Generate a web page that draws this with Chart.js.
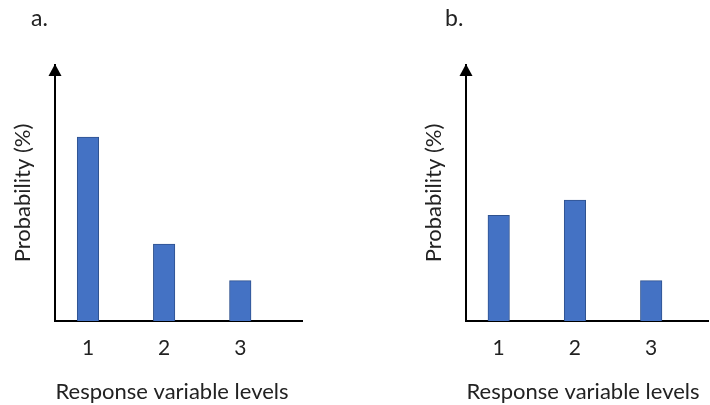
<!DOCTYPE html>
<html>
<head>
<meta charset="utf-8">
<script src="https://cdn.jsdelivr.net/npm/chart.js@4"></script>
<style>
  html, body { margin: 0; padding: 0; background: #fff; }
  #wrap { position: relative; width: 710px; height: 405px; overflow: hidden; }
  canvas { position: absolute; top: 0; }
  .panel-label { position: absolute; font-family: Lato, "Open Sans", sans-serif; font-size: 23px; color: #222; line-height: 1; }
</style>
</head>
<body>
<div id="wrap">
  <canvas id="chartA" width="355" height="405" style="left:0"></canvas>
  <canvas id="chartB" width="355" height="405" style="left:355px"></canvas>
  <div class="panel-label" style="left:31px; top:6px">a.</div>
  <div class="panel-label" style="left:445px; top:6px">b.</div>
</div>
<script>
// ---- data ----
const categories = ["1", "2", "3"];
const levelPositions = [1, 2, 3];
const probabilitiesA = [71.8, 30, 15.8];
const probabilitiesB = [41.3, 47.2, 15.8];
const xAxisTitle = "Response variable levels";
const yAxisTitle = "Probability (%)";

const FONT = { family: "Lato, 'Open Sans', sans-serif", size: 22, lineHeight: 1.2 };
const TICK_FONT = { family: "Lato, 'Open Sans', sans-serif", size: 21, lineHeight: 1.2 };
const TEXT_COLOR = "#222";

// draws the arrow head on the y axis and the extension of the x axis
const axisDecor = {
  id: "axisDecor",
  afterDraw(chart, args, opts) {
    const ctx = chart.ctx;
    const a = chart.chartArea;
    const yb = Math.round(a.bottom);
    const xl = Math.round(a.left);
    ctx.save();
    ctx.strokeStyle = "#000";
    ctx.lineWidth = 2;
    ctx.beginPath();
    ctx.moveTo(Math.round(a.right) - 2, yb);
    ctx.lineTo(Math.round(a.right) + opts.extend, yb);
    ctx.stroke();
    ctx.fillStyle = "#000";
    ctx.beginPath();
    ctx.moveTo(xl, a.top - 1);
    ctx.lineTo(xl - 6.5, a.top + 11);
    ctx.lineTo(xl + 6.5, a.top + 11);
    ctx.closePath();
    ctx.fill();
    ctx.restore();
  }
};

function makeChart(id, values, cfg) {
  const points = levelPositions.map((x, i) => ({ x: x, y: values[i] }));
  return new Chart(document.getElementById(id), {
    type: "bar",
    data: {
      datasets: [{
        data: points,
        backgroundColor: "#4472C4",
        borderColor: "#2F528F",
        borderWidth: 1,
        barThickness: 21.5,
        borderSkipped: "bottom"
      }]
    },
    options: {
      responsive: false,
      animation: false,
      devicePixelRatio: 1,
      layout: { padding: { top: 65, right: cfg.padRight, bottom: 0, left: 0 } },
      plugins: {
        legend: { display: false },
        tooltip: { enabled: false },
        axisDecor: { extend: cfg.extend }
      },
      scales: {
        x: {
          type: "linear",
          offset: false,
          min: cfg.xMin,
          max: cfg.xMax,
          grid: { display: false, drawTicks: false },
          border: { display: true, color: "#000", width: 2 },
          afterBuildTicks: s => { s.ticks = levelPositions.map(v => ({ value: v })); },
          afterFit: s => { s.height = 84; },
          ticks: {
            padding: 14.3,
            color: TEXT_COLOR,
            font: TICK_FONT,
            maxRotation: 0,
            autoSkip: false,
            callback: v => categories[levelPositions.indexOf(v)]
          },
          title: {
            display: true,
            text: xAxisTitle,
            color: TEXT_COLOR,
            font: FONT,
            padding: { top: 0, bottom: 0 }
          }
        },
        y: {
          min: 0,
          max: 100,
          grid: { display: false, drawTicks: false },
          border: { display: true, color: "#000", width: 2 },
          ticks: { display: false },
          afterFit: s => { s.width = cfg.yWidth; },
          title: {
            display: true,
            text: yAxisTitle,
            color: TEXT_COLOR,
            font: FONT,
            padding: { top: cfg.yTitlePad, bottom: 0 }
          }
        }
      }
    },
    plugins: [axisDecor]
  });
}

makeChart("chartA", probabilitiesA, { xMin: 0.567, xMax: 3.640, padRight: 66, extend: 14, yWidth: 55, yTitlePad: 9.5 });
makeChart("chartB", probabilitiesB, { xMin: 0.571, xMax: 3.640, padRight: 10, extend: 9, yWidth: 111, yTitlePad: 65.8 });
</script>
</body>
</html>
